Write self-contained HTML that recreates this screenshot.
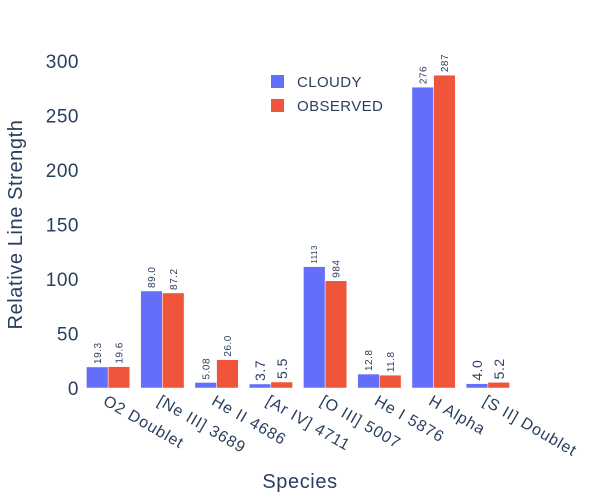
<!DOCTYPE html>
<html><head><meta charset="utf-8"><style>
body{margin:0;background:#fff}
svg{font-family:"Liberation Sans",Arial,sans-serif;display:block}
</style></head><body>
<svg id="c" width="600" height="500"></svg>
<script>
const categories=["O2 Doublet","[Ne III] 3689","He II 4686","[Ar IV] 4711","[O III] 5007","He I 5876","H Alpha","[S II] Doublet"];
const cloudy=[19.3,89.0,5.08,3.7,111.3,12.8,276,4.0];
const observed=[19.6,87.2,26.0,5.5,98.4,11.8,287,5.2];
const cloudyLabels=["19.3","89.0","5.08","3.7","1113","12.8","276","4.0"];
const observedLabels=["19.6","87.2","26.0","5.5","984","11.8","287","5.2"];
const yTicks=[0,50,100,150,200,250,300];
const svg=document.getElementById('c');
const NS='http://www.w3.org/2000/svg';
const L=81,R=515,T=61,B=388,yMax=300;
const band=(R-L)/categories.length;
const x=i=>L+band*i;
const y=v=>B-(B-T)*v/yMax;
function mk(tag,at,txt){const e=document.createElementNS(NS,tag);for(const k in at)e.setAttribute(k,at[k]);if(txt!=null)e.textContent=txt;svg.appendChild(e);return e;}
yTicks.forEach(t=>{
  const e=mk('text',{x:L-2,y:y(t)+7,'text-anchor':'end','font-size':19,fill:'#2a3f5f','letter-spacing':0.5},t);
  
  
});
const bw=band*0.8/2;
function fs(l){return (l.length<=3&&l.includes('.'))?14:(l.length===4&&!l.includes('.'))?8:10;}
[[cloudy,cloudyLabels,'#636efa','cloudy'],[observed,observedLabels,'#ef553b','observed']].forEach(([vals,labs,col,nm],s)=>{
  vals.forEach((v,i)=>{
    const bx=x(i)+band*0.1+s*bw;
    const r=mk('rect',{x:bx,y:y(v),width:bw,height:B-y(v),fill:col,stroke:'#fff','stroke-width':0.5});
    
    
    const cx=bx+bw/2,ty=y(v)-3,f=fs(labs[i]);
    const t=mk('text',{x:0,y:0,'font-size':f,fill:'#2a3f5f','text-anchor':'start','letter-spacing':0.5,transform:`translate(${cx+f*0.36},${ty}) rotate(-90)`},labs[i]);
    
    
  });
});
categories.forEach((c,i)=>{
  const cx=x(i)+band/2;
  const t=mk('text',{x:0,y:0,'font-size':16,fill:'#2a3f5f','letter-spacing':0.9,transform:`translate(${cx-6},${B+16}) rotate(30)`},c);
  
  
});
const yt=mk('text',{x:0,y:0,'font-size':20,fill:'#2a3f5f','text-anchor':'middle','letter-spacing':0.6,transform:`translate(22,${(T+B)/2}) rotate(-90)`},'Relative Line Strength');


const xt=mk('text',{x:300,y:488,'font-size':20,fill:'#2a3f5f','text-anchor':'middle','letter-spacing':0.6},'Species');


[['CLOUDY','#636efa',82],['OBSERVED','#ef553b',106]].forEach(([n,col,ly])=>{
  const r=mk('rect',{x:271,y:ly-7,width:13,height:13,fill:col});
  
  
  const t=mk('text',{x:297,y:ly+5,'font-size':15,fill:'#2a3f5f','letter-spacing':0.4},n);
  
  
});
</script>
</body></html>
